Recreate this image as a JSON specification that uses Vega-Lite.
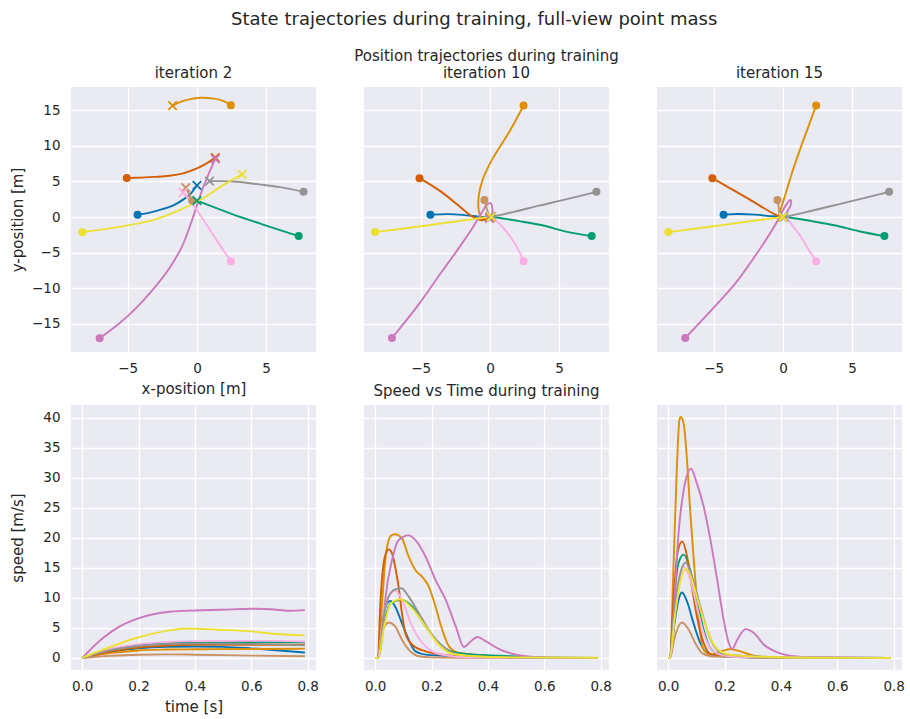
{
  "$schema": "https://vega.github.io/schema/vega-lite/v6.json",
  "padding": {"left": 10, "top": 11, "right": 5, "bottom": 5},
  "title": {"text": "State trajectories during training, full-view point mass", "fontSize": 18, "offset": 20, "anchor": "middle", "dx": 17},
  "datasets": {
    "traj": [
      {"iter":2,"agent":0,"step":0,"x":-4.29,"y":0.33},{"iter":2,"agent":0,"step":1,"x":-3.4,"y":0.62},{"iter":2,"agent":0,"step":2,"x":-2.5,"y":1.1},{"iter":2,"agent":0,"step":3,"x":-1.7,"y":1.65},{"iter":2,"agent":0,"step":4,"x":-1.0,"y":2.45},{"iter":2,"agent":0,"step":5,"x":-0.45,"y":3.3},{"iter":2,"agent":0,"step":6,"x":0,"y":4.46},
      {"iter":2,"agent":1,"step":0,"x":2.45,"y":15.73},{"iter":2,"agent":1,"step":1,"x":1.9,"y":16.35},{"iter":2,"agent":1,"step":2,"x":1.1,"y":16.7},{"iter":2,"agent":1,"step":3,"x":0.3,"y":16.78},{"iter":2,"agent":1,"step":4,"x":-0.5,"y":16.6},{"iter":2,"agent":1,"step":5,"x":-1.2,"y":16.2},{"iter":2,"agent":1,"step":6,"x":-1.76,"y":15.68},
      {"iter":2,"agent":2,"step":0,"x":7.35,"y":-2.69},{"iter":2,"agent":2,"step":1,"x":5.0,"y":-1.2},{"iter":2,"agent":2,"step":2,"x":2.5,"y":0.45},{"iter":2,"agent":2,"step":3,"x":0,"y":2.3},
      {"iter":2,"agent":3,"step":0,"x":-5.07,"y":5.48},{"iter":2,"agent":3,"step":1,"x":-4,"y":5.55},{"iter":2,"agent":3,"step":2,"x":-3,"y":5.65},{"iter":2,"agent":3,"step":3,"x":-2,"y":5.8},{"iter":2,"agent":3,"step":4,"x":-1,"y":6.15},{"iter":2,"agent":3,"step":5,"x":0,"y":6.85},{"iter":2,"agent":3,"step":6,"x":0.7,"y":7.55},{"iter":2,"agent":3,"step":7,"x":1.32,"y":8.36},
      {"iter":2,"agent":4,"step":0,"x":-7.03,"y":-17.05},{"iter":2,"agent":4,"step":1,"x":-5.71,"y":-15.12},{"iter":2,"agent":4,"step":2,"x":-4.49,"y":-12.99},{"iter":2,"agent":4,"step":3,"x":-3.26,"y":-10.39},{"iter":2,"agent":4,"step":4,"x":-2.03,"y":-7.32},{"iter":2,"agent":4,"step":5,"x":-1.05,"y":-4.02},{"iter":2,"agent":4,"step":6,"x":-0.32,"y":-0.24},{"iter":2,"agent":4,"step":7,"x":0.42,"y":4.02},{"iter":2,"agent":4,"step":8,"x":1.32,"y":8.17},
      {"iter":2,"agent":5,"step":0,"x":-0.35,"y":2.33},{"iter":2,"agent":5,"step":1,"x":-0.55,"y":3.1},{"iter":2,"agent":5,"step":2,"x":-0.81,"y":4.15},
      {"iter":2,"agent":6,"step":0,"x":2.45,"y":-6.24},{"iter":2,"agent":6,"step":1,"x":1.3,"y":-2.9},{"iter":2,"agent":6,"step":2,"x":0.2,"y":0.35},{"iter":2,"agent":6,"step":3,"x":-0.5,"y":2.3},{"iter":2,"agent":6,"step":4,"x":-1.0,"y":3.45},
      {"iter":2,"agent":7,"step":0,"x":7.7,"y":3.54},{"iter":2,"agent":7,"step":1,"x":6,"y":4.2},{"iter":2,"agent":7,"step":2,"x":4.5,"y":4.6},{"iter":2,"agent":7,"step":3,"x":2.87,"y":4.96},{"iter":2,"agent":7,"step":4,"x":1.8,"y":5.05},{"iter":2,"agent":7,"step":5,"x":0.91,"y":5.05},
      {"iter":2,"agent":8,"step":0,"x":-8.28,"y":-2.13},{"iter":2,"agent":8,"step":1,"x":-5.71,"y":-1.42},{"iter":2,"agent":8,"step":2,"x":-3.26,"y":-0.47},{"iter":2,"agent":8,"step":3,"x":-1.3,"y":0.94},{"iter":2,"agent":8,"step":4,"x":0.42,"y":2.6},{"iter":2,"agent":8,"step":5,"x":1.89,"y":4.49},{"iter":2,"agent":8,"step":6,"x":3.26,"y":6.0},

      {"iter":10,"agent":0,"step":0,"x":-4.3,"y":0.33},{"iter":10,"agent":0,"step":1,"x":-3,"y":0.4},{"iter":10,"agent":0,"step":2,"x":-2,"y":0.3},{"iter":10,"agent":0,"step":3,"x":-1,"y":0.1},{"iter":10,"agent":0,"step":4,"x":-0.3,"y":-0.05},{"iter":10,"agent":0,"step":5,"x":0,"y":0},
      {"iter":10,"agent":1,"step":0,"x":2.43,"y":15.7},{"iter":10,"agent":1,"step":1,"x":1.4,"y":12.0},{"iter":10,"agent":1,"step":2,"x":0.2,"y":8.25},{"iter":10,"agent":1,"step":3,"x":-0.5,"y":5.4},{"iter":10,"agent":1,"step":4,"x":-0.8,"y":3.1},{"iter":10,"agent":1,"step":5,"x":-0.8,"y":0.8},{"iter":10,"agent":1,"step":6,"x":-0.5,"y":-0.25},{"iter":10,"agent":1,"step":7,"x":0,"y":0},
      {"iter":10,"agent":2,"step":0,"x":7.35,"y":-2.69},{"iter":10,"agent":2,"step":1,"x":5.5,"y":-2.05},{"iter":10,"agent":2,"step":2,"x":3.86,"y":-1.2},{"iter":10,"agent":2,"step":3,"x":2,"y":-0.55},{"iter":10,"agent":2,"step":4,"x":0.6,"y":-0.1},{"iter":10,"agent":2,"step":5,"x":0.1,"y":0},
      {"iter":10,"agent":3,"step":0,"x":-5.09,"y":5.47},{"iter":10,"agent":3,"step":1,"x":-3.51,"y":3.54},{"iter":10,"agent":3,"step":2,"x":-2.29,"y":1.65},{"iter":10,"agent":3,"step":3,"x":-1.3,"y":0.1},{"iter":10,"agent":3,"step":4,"x":-0.6,"y":-0.45},{"iter":10,"agent":3,"step":5,"x":0,"y":-0.1},
      {"iter":10,"agent":4,"step":0,"x":-7.08,"y":-17.03},{"iter":10,"agent":4,"step":1,"x":-5.23,"y":-12.5},{"iter":10,"agent":4,"step":2,"x":-3.51,"y":-7.78},{"iter":10,"agent":4,"step":3,"x":-2.29,"y":-4.48},{"iter":10,"agent":4,"step":4,"x":-1.3,"y":-1.65},{"iter":10,"agent":4,"step":5,"x":-0.57,"y":0.71},{"iter":10,"agent":4,"step":6,"x":-0.2,"y":1.75},{"iter":10,"agent":4,"step":7,"x":0.05,"y":1.95},{"iter":10,"agent":4,"step":8,"x":0.17,"y":1.2},{"iter":10,"agent":4,"step":9,"x":0.12,"y":0.1},{"iter":10,"agent":4,"step":10,"x":-0.05,"y":-0.2},
      {"iter":10,"agent":5,"step":0,"x":-0.4,"y":2.4},{"iter":10,"agent":5,"step":1,"x":-0.25,"y":1.3},{"iter":10,"agent":5,"step":2,"x":-0.1,"y":0.4},{"iter":10,"agent":5,"step":3,"x":0,"y":0},
      {"iter":10,"agent":6,"step":0,"x":2.43,"y":-6.23},{"iter":10,"agent":6,"step":1,"x":2.05,"y":-4.6},{"iter":10,"agent":6,"step":2,"x":1.55,"y":-3.0},{"iter":10,"agent":6,"step":3,"x":1.0,"y":-1.6},{"iter":10,"agent":6,"step":4,"x":0.45,"y":-0.5},{"iter":10,"agent":6,"step":5,"x":0.1,"y":0.1},
      {"iter":10,"agent":7,"step":0,"x":7.69,"y":3.54},{"iter":10,"agent":7,"step":1,"x":5.1,"y":2.3},{"iter":10,"agent":7,"step":2,"x":3.54,"y":1.6},{"iter":10,"agent":7,"step":3,"x":2,"y":0.85},{"iter":10,"agent":7,"step":4,"x":0.8,"y":0.3},{"iter":10,"agent":7,"step":5,"x":0.1,"y":0.05},
      {"iter":10,"agent":8,"step":0,"x":-8.3,"y":-2.12},{"iter":10,"agent":8,"step":1,"x":-5,"y":-1.3},{"iter":10,"agent":8,"step":2,"x":-2,"y":-0.5},{"iter":10,"agent":8,"step":3,"x":0.1,"y":0.02},

      {"iter":15,"agent":0,"step":0,"x":-4.29,"y":0.33},{"iter":15,"agent":0,"step":1,"x":-3.3,"y":0.42},{"iter":15,"agent":0,"step":2,"x":-2,"y":0.33},{"iter":15,"agent":0,"step":3,"x":-0.8,"y":0.1},{"iter":15,"agent":0,"step":4,"x":0,"y":0},
      {"iter":15,"agent":1,"step":0,"x":2.4,"y":15.71},{"iter":15,"agent":1,"step":1,"x":1.55,"y":11.2},{"iter":15,"agent":1,"step":2,"x":0.75,"y":6.8},{"iter":15,"agent":1,"step":3,"x":0.15,"y":3.0},{"iter":15,"agent":1,"step":4,"x":-0.2,"y":0.8},{"iter":15,"agent":1,"step":5,"x":-0.35,"y":-0.5},{"iter":15,"agent":1,"step":6,"x":-0.15,"y":-0.25},{"iter":15,"agent":1,"step":7,"x":0,"y":0},
      {"iter":15,"agent":2,"step":0,"x":7.33,"y":-2.69},{"iter":15,"agent":2,"step":1,"x":5.5,"y":-2.0},{"iter":15,"agent":2,"step":2,"x":3.8,"y":-1.2},{"iter":15,"agent":2,"step":3,"x":2,"y":-0.55},{"iter":15,"agent":2,"step":4,"x":0.6,"y":-0.1},{"iter":15,"agent":2,"step":5,"x":0.05,"y":0},
      {"iter":15,"agent":3,"step":0,"x":-5.1,"y":5.47},{"iter":15,"agent":3,"step":1,"x":-2.7,"y":2.8},{"iter":15,"agent":3,"step":2,"x":-0.35,"y":0.15},{"iter":15,"agent":3,"step":3,"x":0,"y":0},
      {"iter":15,"agent":4,"step":0,"x":-7.06,"y":-17.03},{"iter":15,"agent":4,"step":1,"x":-5.1,"y":-12.97},{"iter":15,"agent":4,"step":2,"x":-3.38,"y":-9.2},{"iter":15,"agent":4,"step":3,"x":-2.16,"y":-5.9},{"iter":15,"agent":4,"step":4,"x":-1.18,"y":-3.07},{"iter":15,"agent":4,"step":5,"x":-0.44,"y":-0.71},{"iter":15,"agent":4,"step":6,"x":-0.07,"y":0.71},{"iter":15,"agent":4,"step":7,"x":0.29,"y":1.89},{"iter":15,"agent":4,"step":8,"x":0.54,"y":2.4},{"iter":15,"agent":4,"step":9,"x":0.59,"y":1.89},{"iter":15,"agent":4,"step":10,"x":0.29,"y":0.71},{"iter":15,"agent":4,"step":11,"x":-0.07,"y":-0.24},{"iter":15,"agent":4,"step":12,"x":0,"y":0},
      {"iter":15,"agent":5,"step":0,"x":-0.4,"y":2.4},{"iter":15,"agent":5,"step":1,"x":-0.3,"y":1.2},{"iter":15,"agent":5,"step":2,"x":-0.2,"y":0.1},{"iter":15,"agent":5,"step":3,"x":0,"y":0},
      {"iter":15,"agent":6,"step":0,"x":2.4,"y":-6.23},{"iter":15,"agent":6,"step":1,"x":1.83,"y":-4.5},{"iter":15,"agent":6,"step":2,"x":1.2,"y":-2.5},{"iter":15,"agent":6,"step":3,"x":0.6,"y":-1.0},{"iter":15,"agent":6,"step":4,"x":0.2,"y":0.2},{"iter":15,"agent":6,"step":5,"x":0,"y":0},
      {"iter":15,"agent":7,"step":0,"x":7.67,"y":3.54},{"iter":15,"agent":7,"step":1,"x":5.1,"y":2.3},{"iter":15,"agent":7,"step":2,"x":3.5,"y":1.55},{"iter":15,"agent":7,"step":3,"x":2,"y":0.85},{"iter":15,"agent":7,"step":4,"x":0.8,"y":0.3},{"iter":15,"agent":7,"step":5,"x":0.05,"y":0},
      {"iter":15,"agent":8,"step":0,"x":-8.28,"y":-2.12},{"iter":15,"agent":8,"step":1,"x":-5,"y":-1.3},{"iter":15,"agent":8,"step":2,"x":-2,"y":-0.5},{"iter":15,"agent":8,"step":3,"x":0.2,"y":0.05},{"iter":15,"agent":8,"step":4,"x":0,"y":0}
    ],
    "speed": [
      {"iter":2,"agent":0,"t":0,"speed":0},{"iter":2,"agent":0,"t":0.1,"speed":1.0},{"iter":2,"agent":0,"t":0.2,"speed":1.6},{"iter":2,"agent":0,"t":0.3,"speed":1.85},{"iter":2,"agent":0,"t":0.4,"speed":1.9},{"iter":2,"agent":0,"t":0.5,"speed":1.85},{"iter":2,"agent":0,"t":0.6,"speed":1.6},{"iter":2,"agent":0,"t":0.7,"speed":1.25},{"iter":2,"agent":0,"t":0.79,"speed":0.9},
      {"iter":2,"agent":1,"t":0,"speed":0},{"iter":2,"agent":1,"t":0.1,"speed":0.8},{"iter":2,"agent":1,"t":0.2,"speed":1.25},{"iter":2,"agent":1,"t":0.3,"speed":1.4},{"iter":2,"agent":1,"t":0.4,"speed":1.45},{"iter":2,"agent":1,"t":0.6,"speed":1.5},{"iter":2,"agent":1,"t":0.79,"speed":1.55},
      {"iter":2,"agent":2,"t":0,"speed":0},{"iter":2,"agent":2,"t":0.1,"speed":1.4},{"iter":2,"agent":2,"t":0.2,"speed":2.1},{"iter":2,"agent":2,"t":0.3,"speed":2.45},{"iter":2,"agent":2,"t":0.4,"speed":2.6},{"iter":2,"agent":2,"t":0.6,"speed":2.65},{"iter":2,"agent":2,"t":0.79,"speed":2.6},
      {"iter":2,"agent":3,"t":0,"speed":0},{"iter":2,"agent":3,"t":0.1,"speed":1.1},{"iter":2,"agent":3,"t":0.2,"speed":1.75},{"iter":2,"agent":3,"t":0.3,"speed":2.05},{"iter":2,"agent":3,"t":0.4,"speed":2.2},{"iter":2,"agent":3,"t":0.6,"speed":2.2},{"iter":2,"agent":3,"t":0.79,"speed":2.2},
      {"iter":2,"agent":4,"t":0,"speed":0},{"iter":2,"agent":4,"t":0.074,"speed":3.32},{"iter":2,"agent":4,"t":0.133,"speed":5.25},{"iter":2,"agent":4,"t":0.202,"speed":6.64},{"iter":2,"agent":4,"t":0.311,"speed":7.69},{"iter":2,"agent":4,"t":0.402,"speed":7.91},{"iter":2,"agent":4,"t":0.489,"speed":8.02},{"iter":2,"agent":4,"t":0.602,"speed":8.19},{"iter":2,"agent":4,"t":0.691,"speed":8.02},{"iter":2,"agent":4,"t":0.738,"speed":7.85},{"iter":2,"agent":4,"t":0.79,"speed":7.96},
      {"iter":2,"agent":5,"t":0,"speed":0},{"iter":2,"agent":5,"t":0.1,"speed":0.35},{"iter":2,"agent":5,"t":0.2,"speed":0.55},{"iter":2,"agent":5,"t":0.3,"speed":0.6},{"iter":2,"agent":5,"t":0.4,"speed":0.55},{"iter":2,"agent":5,"t":0.6,"speed":0.4},{"iter":2,"agent":5,"t":0.79,"speed":0.3},
      {"iter":2,"agent":6,"t":0,"speed":0},{"iter":2,"agent":6,"t":0.05,"speed":0.8},{"iter":2,"agent":6,"t":0.1,"speed":1.5},{"iter":2,"agent":6,"t":0.2,"speed":2.3},{"iter":2,"agent":6,"t":0.3,"speed":2.65},{"iter":2,"agent":6,"t":0.4,"speed":2.8},{"iter":2,"agent":6,"t":0.6,"speed":2.85},{"iter":2,"agent":6,"t":0.7,"speed":2.85},{"iter":2,"agent":6,"t":0.79,"speed":2.75},
      {"iter":2,"agent":7,"t":0,"speed":0},{"iter":2,"agent":7,"t":0.1,"speed":1.3},{"iter":2,"agent":7,"t":0.2,"speed":2.0},{"iter":2,"agent":7,"t":0.3,"speed":2.3},{"iter":2,"agent":7,"t":0.4,"speed":2.4},{"iter":2,"agent":7,"t":0.6,"speed":2.35},{"iter":2,"agent":7,"t":0.79,"speed":2.1},
      {"iter":2,"agent":8,"t":0,"speed":0},{"iter":2,"agent":8,"t":0.074,"speed":1.38},{"iter":2,"agent":8,"t":0.192,"speed":3.32},{"iter":2,"agent":8,"t":0.311,"speed":4.59},{"iter":2,"agent":8,"t":0.358,"speed":4.87},{"iter":2,"agent":8,"t":0.402,"speed":4.87},{"iter":2,"agent":8,"t":0.489,"speed":4.7},{"iter":2,"agent":8,"t":0.602,"speed":4.42},{"iter":2,"agent":8,"t":0.691,"speed":3.98},{"iter":2,"agent":8,"t":0.79,"speed":3.76},

      {"iter":10,"agent":0,"t":0,"speed":0},{"iter":10,"agent":0,"t":0.01,"speed":0},{"iter":10,"agent":0,"t":0.024,"speed":5.25},{"iter":10,"agent":0,"t":0.042,"speed":9.1},{"iter":10,"agent":0,"t":0.054,"speed":9.5},{"iter":10,"agent":0,"t":0.071,"speed":8.56},{"iter":10,"agent":0,"t":0.095,"speed":5.8},{"iter":10,"agent":0,"t":0.119,"speed":3.04},{"iter":10,"agent":0,"t":0.143,"speed":1.1},{"iter":10,"agent":0,"t":0.179,"speed":0.55},{"iter":10,"agent":0,"t":0.238,"speed":0.39},{"iter":10,"agent":0,"t":0.3,"speed":0.2},{"iter":10,"agent":0,"t":0.4,"speed":0.08},{"iter":10,"agent":0,"t":0.79,"speed":0},
      {"iter":10,"agent":1,"t":0,"speed":0},{"iter":10,"agent":1,"t":0.01,"speed":0},{"iter":10,"agent":1,"t":0.024,"speed":8.6},{"iter":10,"agent":1,"t":0.036,"speed":16.3},{"iter":10,"agent":1,"t":0.048,"speed":19.6},{"iter":10,"agent":1,"t":0.06,"speed":20.5},{"iter":10,"agent":1,"t":0.071,"speed":20.6},{"iter":10,"agent":1,"t":0.095,"speed":19.9},{"iter":10,"agent":1,"t":0.119,"speed":16.85},{"iter":10,"agent":1,"t":0.143,"speed":14.6},{"iter":10,"agent":1,"t":0.167,"speed":13.5},{"iter":10,"agent":1,"t":0.19,"speed":11.9},{"iter":10,"agent":1,"t":0.214,"speed":8.56},{"iter":10,"agent":1,"t":0.238,"speed":4.7},{"iter":10,"agent":1,"t":0.262,"speed":1.93},{"iter":10,"agent":1,"t":0.298,"speed":0.83},{"iter":10,"agent":1,"t":0.4,"speed":0.4},{"iter":10,"agent":1,"t":0.5,"speed":0.15},{"iter":10,"agent":1,"t":0.79,"speed":0},
      {"iter":10,"agent":2,"t":0,"speed":0},{"iter":10,"agent":2,"t":0.01,"speed":0},{"iter":10,"agent":2,"t":0.03,"speed":5.25},{"iter":10,"agent":2,"t":0.054,"speed":9.1},{"iter":10,"agent":2,"t":0.095,"speed":9.67},{"iter":10,"agent":2,"t":0.131,"speed":8.56},{"iter":10,"agent":2,"t":0.179,"speed":5.25},{"iter":10,"agent":2,"t":0.226,"speed":2.5},{"iter":10,"agent":2,"t":0.274,"speed":1.0},{"iter":10,"agent":2,"t":0.357,"speed":0.55},{"iter":10,"agent":2,"t":0.44,"speed":0.39},{"iter":10,"agent":2,"t":0.536,"speed":0.17},{"iter":10,"agent":2,"t":0.65,"speed":0.05},{"iter":10,"agent":2,"t":0.79,"speed":0},
      {"iter":10,"agent":3,"t":0,"speed":0},{"iter":10,"agent":3,"t":0.01,"speed":0},{"iter":10,"agent":3,"t":0.018,"speed":8.56},{"iter":10,"agent":3,"t":0.03,"speed":15.7},{"iter":10,"agent":3,"t":0.042,"speed":17.8},{"iter":10,"agent":3,"t":0.048,"speed":18.07},{"iter":10,"agent":3,"t":0.06,"speed":17.4},{"iter":10,"agent":3,"t":0.071,"speed":15.2},{"iter":10,"agent":3,"t":0.083,"speed":11.9},{"iter":10,"agent":3,"t":0.095,"speed":7.46},{"iter":10,"agent":3,"t":0.107,"speed":4.14},{"iter":10,"agent":3,"t":0.131,"speed":2.2},{"iter":10,"agent":3,"t":0.179,"speed":1.1},{"iter":10,"agent":3,"t":0.238,"speed":0.55},{"iter":10,"agent":3,"t":0.298,"speed":0.28},{"iter":10,"agent":3,"t":0.4,"speed":0.05},{"iter":10,"agent":3,"t":0.79,"speed":0},
      {"iter":10,"agent":4,"t":0,"speed":0},{"iter":10,"agent":4,"t":0.01,"speed":0},{"iter":10,"agent":4,"t":0.024,"speed":3.0},{"iter":10,"agent":4,"t":0.036,"speed":9.7},{"iter":10,"agent":4,"t":0.06,"speed":16.3},{"iter":10,"agent":4,"t":0.083,"speed":19.6},{"iter":10,"agent":4,"t":0.119,"speed":20.4},{"iter":10,"agent":4,"t":0.143,"speed":19.6},{"iter":10,"agent":4,"t":0.179,"speed":16.85},{"iter":10,"agent":4,"t":0.214,"speed":13},{"iter":10,"agent":4,"t":0.25,"speed":9.7},{"iter":10,"agent":4,"t":0.286,"speed":5.25},{"iter":10,"agent":4,"t":0.315,"speed":1.82},{"iter":10,"agent":4,"t":0.339,"speed":2.76},{"iter":10,"agent":4,"t":0.363,"speed":3.48},{"iter":10,"agent":4,"t":0.393,"speed":2.76},{"iter":10,"agent":4,"t":0.44,"speed":1.49},{"iter":10,"agent":4,"t":0.5,"speed":0.55},{"iter":10,"agent":4,"t":0.56,"speed":0.17},{"iter":10,"agent":4,"t":0.65,"speed":0.03},{"iter":10,"agent":4,"t":0.79,"speed":0},
      {"iter":10,"agent":5,"t":0,"speed":0},{"iter":10,"agent":5,"t":0.01,"speed":0},{"iter":10,"agent":5,"t":0.024,"speed":4.1},{"iter":10,"agent":5,"t":0.048,"speed":5.9},{"iter":10,"agent":5,"t":0.071,"speed":5.25},{"iter":10,"agent":5,"t":0.095,"speed":3.04},{"iter":10,"agent":5,"t":0.119,"speed":1.38},{"iter":10,"agent":5,"t":0.155,"speed":0.28},{"iter":10,"agent":5,"t":0.2,"speed":0.1},{"iter":10,"agent":5,"t":0.3,"speed":0.05},{"iter":10,"agent":5,"t":0.79,"speed":0},
      {"iter":10,"agent":6,"t":0,"speed":0},{"iter":10,"agent":6,"t":0.01,"speed":0},{"iter":10,"agent":6,"t":0.024,"speed":5.25},{"iter":10,"agent":6,"t":0.048,"speed":10.2},{"iter":10,"agent":6,"t":0.071,"speed":11.2},{"iter":10,"agent":6,"t":0.095,"speed":9.7},{"iter":10,"agent":6,"t":0.131,"speed":5.25},{"iter":10,"agent":6,"t":0.167,"speed":2.5},{"iter":10,"agent":6,"t":0.202,"speed":1.1},{"iter":10,"agent":6,"t":0.25,"speed":0.45},{"iter":10,"agent":6,"t":0.3,"speed":0.17},{"iter":10,"agent":6,"t":0.4,"speed":0.05},{"iter":10,"agent":6,"t":0.79,"speed":0},
      {"iter":10,"agent":7,"t":0,"speed":0},{"iter":10,"agent":7,"t":0.01,"speed":0},{"iter":10,"agent":7,"t":0.03,"speed":6.9},{"iter":10,"agent":7,"t":0.048,"speed":10.2},{"iter":10,"agent":7,"t":0.071,"speed":11.4},{"iter":10,"agent":7,"t":0.093,"speed":11.6},{"iter":10,"agent":7,"t":0.119,"speed":10.2},{"iter":10,"agent":7,"t":0.155,"speed":7.46},{"iter":10,"agent":7,"t":0.19,"speed":4.7},{"iter":10,"agent":7,"t":0.226,"speed":2.5},{"iter":10,"agent":7,"t":0.262,"speed":1.1},{"iter":10,"agent":7,"t":0.298,"speed":0.55},{"iter":10,"agent":7,"t":0.357,"speed":0.28},{"iter":10,"agent":7,"t":0.45,"speed":0.1},{"iter":10,"agent":7,"t":0.79,"speed":0},
      {"iter":10,"agent":8,"t":0,"speed":0},{"iter":10,"agent":8,"t":0.01,"speed":0},{"iter":10,"agent":8,"t":0.03,"speed":4.7},{"iter":10,"agent":8,"t":0.054,"speed":9.0},{"iter":10,"agent":8,"t":0.089,"speed":9.78},{"iter":10,"agent":8,"t":0.131,"speed":8.3},{"iter":10,"agent":8,"t":0.179,"speed":5.25},{"iter":10,"agent":8,"t":0.226,"speed":2.2},{"iter":10,"agent":8,"t":0.274,"speed":0.7},{"iter":10,"agent":8,"t":0.357,"speed":0.28},{"iter":10,"agent":8,"t":0.476,"speed":0.1},{"iter":10,"agent":8,"t":0.79,"speed":0.05},

      {"iter":15,"agent":0,"t":0,"speed":0},{"iter":15,"agent":0,"t":0.007,"speed":0},{"iter":15,"agent":0,"t":0.021,"speed":5.25},{"iter":15,"agent":0,"t":0.037,"speed":9.7},{"iter":15,"agent":0,"t":0.049,"speed":10.9},{"iter":15,"agent":0,"t":0.067,"speed":9.4},{"iter":15,"agent":0,"t":0.09,"speed":5.8},{"iter":15,"agent":0,"t":0.114,"speed":2.5},{"iter":15,"agent":0,"t":0.138,"speed":0.83},{"iter":15,"agent":0,"t":0.186,"speed":0.28},{"iter":15,"agent":0,"t":0.3,"speed":0.08},{"iter":15,"agent":0,"t":0.79,"speed":0},
      {"iter":15,"agent":1,"t":0,"speed":0},{"iter":15,"agent":1,"t":0.007,"speed":0},{"iter":15,"agent":1,"t":0.019,"speed":15.2},{"iter":15,"agent":1,"t":0.031,"speed":31.8},{"iter":15,"agent":1,"t":0.04,"speed":39.6},{"iter":15,"agent":1,"t":0.045,"speed":40.1},{"iter":15,"agent":1,"t":0.055,"speed":39.0},{"iter":15,"agent":1,"t":0.067,"speed":32.9},{"iter":15,"agent":1,"t":0.078,"speed":24.6},{"iter":15,"agent":1,"t":0.09,"speed":16.9},{"iter":15,"agent":1,"t":0.102,"speed":9.7},{"iter":15,"agent":1,"t":0.114,"speed":4.15},{"iter":15,"agent":1,"t":0.126,"speed":1.38},{"iter":15,"agent":1,"t":0.15,"speed":0.55},{"iter":15,"agent":1,"t":0.186,"speed":1.1},{"iter":15,"agent":1,"t":0.221,"speed":1.49},{"iter":15,"agent":1,"t":0.257,"speed":1.1},{"iter":15,"agent":1,"t":0.304,"speed":0.39},{"iter":15,"agent":1,"t":0.4,"speed":0.05},{"iter":15,"agent":1,"t":0.79,"speed":0},
      {"iter":15,"agent":2,"t":0,"speed":0},{"iter":15,"agent":2,"t":0.007,"speed":0},{"iter":15,"agent":2,"t":0.019,"speed":8.6},{"iter":15,"agent":2,"t":0.037,"speed":15.8},{"iter":15,"agent":2,"t":0.055,"speed":17.2},{"iter":15,"agent":2,"t":0.078,"speed":14.7},{"iter":15,"agent":2,"t":0.102,"speed":9.7},{"iter":15,"agent":2,"t":0.126,"speed":4.7},{"iter":15,"agent":2,"t":0.15,"speed":1.66},{"iter":15,"agent":2,"t":0.186,"speed":0.55},{"iter":15,"agent":2,"t":0.245,"speed":0.28},{"iter":15,"agent":2,"t":0.35,"speed":0.08},{"iter":15,"agent":2,"t":0.79,"speed":0},
      {"iter":15,"agent":3,"t":0,"speed":0},{"iter":15,"agent":3,"t":0.007,"speed":0},{"iter":15,"agent":3,"t":0.019,"speed":9.7},{"iter":15,"agent":3,"t":0.033,"speed":17.4},{"iter":15,"agent":3,"t":0.05,"speed":19.4},{"iter":15,"agent":3,"t":0.067,"speed":16.9},{"iter":15,"agent":3,"t":0.084,"speed":11.9},{"iter":15,"agent":3,"t":0.102,"speed":6.9},{"iter":15,"agent":3,"t":0.126,"speed":2.5},{"iter":15,"agent":3,"t":0.156,"speed":0.55},{"iter":15,"agent":3,"t":0.209,"speed":0.39},{"iter":15,"agent":3,"t":0.3,"speed":0.1},{"iter":15,"agent":3,"t":0.79,"speed":0},
      {"iter":15,"agent":4,"t":0,"speed":0},{"iter":15,"agent":4,"t":0.007,"speed":0},{"iter":15,"agent":4,"t":0.019,"speed":6.9},{"iter":15,"agent":4,"t":0.037,"speed":20.75},{"iter":15,"agent":4,"t":0.055,"speed":27.9},{"iter":15,"agent":4,"t":0.081,"speed":31.5},{"iter":15,"agent":4,"t":0.102,"speed":29.05},{"iter":15,"agent":4,"t":0.126,"speed":25.2},{"iter":15,"agent":4,"t":0.15,"speed":19.65},{"iter":15,"agent":4,"t":0.174,"speed":13.0},{"iter":15,"agent":4,"t":0.197,"speed":6.36},{"iter":15,"agent":4,"t":0.215,"speed":2.49},{"iter":15,"agent":4,"t":0.227,"speed":1.49},{"iter":15,"agent":4,"t":0.245,"speed":3.04},{"iter":15,"agent":4,"t":0.275,"speed":4.8},{"iter":15,"agent":4,"t":0.304,"speed":4.15},{"iter":15,"agent":4,"t":0.34,"speed":2.2},{"iter":15,"agent":4,"t":0.388,"speed":0.94},{"iter":15,"agent":4,"t":0.447,"speed":0.28},{"iter":15,"agent":4,"t":0.52,"speed":0.05},{"iter":15,"agent":4,"t":0.79,"speed":0},
      {"iter":15,"agent":5,"t":0,"speed":0},{"iter":15,"agent":5,"t":0.007,"speed":0},{"iter":15,"agent":5,"t":0.021,"speed":3.0},{"iter":15,"agent":5,"t":0.049,"speed":5.9},{"iter":15,"agent":5,"t":0.073,"speed":4.7},{"iter":15,"agent":5,"t":0.096,"speed":2.5},{"iter":15,"agent":5,"t":0.12,"speed":0.83},{"iter":15,"agent":5,"t":0.15,"speed":0.28},{"iter":15,"agent":5,"t":0.245,"speed":0.17},{"iter":15,"agent":5,"t":0.4,"speed":0.05},{"iter":15,"agent":5,"t":0.79,"speed":0},
      {"iter":15,"agent":6,"t":0,"speed":0},{"iter":15,"agent":6,"t":0.007,"speed":0},{"iter":15,"agent":6,"t":0.021,"speed":6.4},{"iter":15,"agent":6,"t":0.04,"speed":13.0},{"iter":15,"agent":6,"t":0.055,"speed":15.2},{"iter":15,"agent":6,"t":0.078,"speed":13.0},{"iter":15,"agent":6,"t":0.102,"speed":8.6},{"iter":15,"agent":6,"t":0.126,"speed":4.15},{"iter":15,"agent":6,"t":0.15,"speed":1.66},{"iter":15,"agent":6,"t":0.186,"speed":0.55},{"iter":15,"agent":6,"t":0.25,"speed":0.15},{"iter":15,"agent":6,"t":0.79,"speed":0},
      {"iter":15,"agent":7,"t":0,"speed":0},{"iter":15,"agent":7,"t":0.007,"speed":0},{"iter":15,"agent":7,"t":0.021,"speed":7.5},{"iter":15,"agent":7,"t":0.043,"speed":14.1},{"iter":15,"agent":7,"t":0.062,"speed":15.9},{"iter":15,"agent":7,"t":0.084,"speed":13.6},{"iter":15,"agent":7,"t":0.114,"speed":8.6},{"iter":15,"agent":7,"t":0.138,"speed":4.7},{"iter":15,"agent":7,"t":0.168,"speed":1.66},{"iter":15,"agent":7,"t":0.209,"speed":0.55},{"iter":15,"agent":7,"t":0.304,"speed":0.28},{"iter":15,"agent":7,"t":0.4,"speed":0.08},{"iter":15,"agent":7,"t":0.79,"speed":0},
      {"iter":15,"agent":8,"t":0,"speed":0},{"iter":15,"agent":8,"t":0.007,"speed":0},{"iter":15,"agent":8,"t":0.021,"speed":5.8},{"iter":15,"agent":8,"t":0.043,"speed":12.7},{"iter":15,"agent":8,"t":0.064,"speed":14.9},{"iter":15,"agent":8,"t":0.084,"speed":13.0},{"iter":15,"agent":8,"t":0.108,"speed":9.1},{"iter":15,"agent":8,"t":0.138,"speed":4.7},{"iter":15,"agent":8,"t":0.162,"speed":2.2},{"iter":15,"agent":8,"t":0.197,"speed":0.83},{"iter":15,"agent":8,"t":0.245,"speed":0.39},{"iter":15,"agent":8,"t":0.364,"speed":0.17},{"iter":15,"agent":8,"t":0.5,"speed":0.05},{"iter":15,"agent":8,"t":0.79,"speed":0}
    ]
  },
  "columns": 3,
  "spacing": {"row": 53, "column": 48},
  "bounds": "flush",
  "concat": [
    {
      "width": 245, "height": 265,
      "title": "iteration 2",
      "data": {"name": "traj"},
      "transform": [{"filter": "datum.iter == 2"}],
      "encoding": {
        "x": {"field": "x", "type": "quantitative", "scale": {"domain": [-9.1, 8.6], "nice": false, "zero": false}, "axis": {"values": [-5, 0, 5], "title": "x-position [m]"}},
        "y": {"field": "y", "type": "quantitative", "scale": {"domain": [-19, 18.3], "nice": false, "zero": false}, "axis": {"values": [-15, -10, -5, 0, 5, 10, 15], "title": "y-position [m]", "titleX": -54}},
        "color": {"field": "agent", "type": "nominal", "scale": {"domain": [0, 1, 2, 3, 4, 5, 6, 7, 8], "range": ["#0173b2", "#de8f05", "#029e73", "#d55e00", "#cc78bc", "#ca9161", "#fbafe4", "#949494", "#ece133"]}, "legend": null}
      },
      "layer": [
        {"mark": {"type": "line", "interpolate": "catmull-rom", "strokeWidth": 1.9}, "encoding": {"order": {"field": "step"}}},
        {"transform": [{"filter": "datum.step == 0"}], "mark": {"type": "point", "shape": "circle", "filled": true, "size": 64, "opacity": 1}},
        {"transform": [{"joinaggregate": [{"op": "max", "field": "step", "as": "last"}], "groupby": ["agent"]}, {"filter": "datum.step == datum.last"}], "mark": {"type": "point", "shape": "M-1,-1L1,1M-1,1L1,-1", "filled": false, "strokeWidth": 1.8, "size": 72, "opacity": 1}}
      ]
    },
    {
      "width": 245, "height": 265,
      "title": {"text": ["Position trajectories during training", "iteration 10"], "lineHeight": 17},
      "data": {"name": "traj"},
      "transform": [{"filter": "datum.iter == 10"}],
      "encoding": {
        "x": {"field": "x", "type": "quantitative", "scale": {"domain": [-9.1, 8.6], "nice": false, "zero": false}, "axis": {"values": [-5, 0, 5], "title": null}},
        "y": {"field": "y", "type": "quantitative", "scale": {"domain": [-19, 18.3], "nice": false, "zero": false}, "axis": {"values": [-15, -10, -5, 0, 5, 10, 15], "title": null, "labels": false}},
        "color": {"field": "agent", "type": "nominal", "scale": {"domain": [0, 1, 2, 3, 4, 5, 6, 7, 8], "range": ["#0173b2", "#de8f05", "#029e73", "#d55e00", "#cc78bc", "#ca9161", "#fbafe4", "#949494", "#ece133"]}, "legend": null}
      },
      "layer": [
        {"mark": {"type": "line", "interpolate": "catmull-rom", "strokeWidth": 1.9}, "encoding": {"order": {"field": "step"}}},
        {"transform": [{"filter": "datum.step == 0"}], "mark": {"type": "point", "shape": "circle", "filled": true, "size": 64, "opacity": 1}},
        {"transform": [{"joinaggregate": [{"op": "max", "field": "step", "as": "last"}], "groupby": ["agent"]}, {"filter": "datum.step == datum.last"}], "mark": {"type": "point", "shape": "M-1,-1L1,1M-1,1L1,-1", "filled": false, "strokeWidth": 1.8, "size": 72, "opacity": 1}}
      ]
    },
    {
      "width": 245, "height": 265,
      "title": "iteration 15",
      "data": {"name": "traj"},
      "transform": [{"filter": "datum.iter == 15"}],
      "encoding": {
        "x": {"field": "x", "type": "quantitative", "scale": {"domain": [-9.1, 8.6], "nice": false, "zero": false}, "axis": {"values": [-5, 0, 5], "title": null}},
        "y": {"field": "y", "type": "quantitative", "scale": {"domain": [-19, 18.3], "nice": false, "zero": false}, "axis": {"values": [-15, -10, -5, 0, 5, 10, 15], "title": null, "labels": false}},
        "color": {"field": "agent", "type": "nominal", "scale": {"domain": [0, 1, 2, 3, 4, 5, 6, 7, 8], "range": ["#0173b2", "#de8f05", "#029e73", "#d55e00", "#cc78bc", "#ca9161", "#fbafe4", "#949494", "#ece133"]}, "legend": null}
      },
      "layer": [
        {"mark": {"type": "line", "interpolate": "catmull-rom", "strokeWidth": 1.9}, "encoding": {"order": {"field": "step"}}},
        {"transform": [{"filter": "datum.step == 0"}], "mark": {"type": "point", "shape": "circle", "filled": true, "size": 64, "opacity": 1}},
        {"transform": [{"joinaggregate": [{"op": "max", "field": "step", "as": "last"}], "groupby": ["agent"]}, {"filter": "datum.step == datum.last"}], "mark": {"type": "point", "shape": "M-1,-1L1,1M-1,1L1,-1", "filled": false, "strokeWidth": 1.8, "size": 72, "opacity": 1}}
      ]
    },
    {
      "width": 245, "height": 265,
      "data": {"name": "speed"},
      "transform": [{"filter": "datum.iter == 2"}],
      "mark": {"type": "line", "interpolate": "monotone", "strokeWidth": 1.9},
      "encoding": {
        "x": {"field": "t", "type": "quantitative", "scale": {"domain": [-0.0395, 0.8295], "nice": false, "zero": false}, "axis": {"values": [0, 0.2, 0.4, 0.6, 0.8], "format": ".1f", "title": "time [s]"}},
        "y": {"field": "speed", "type": "quantitative", "scale": {"domain": [-2.0, 42.1], "nice": false, "zero": false}, "axis": {"values": [0, 5, 10, 15, 20, 25, 30, 35, 40], "title": "speed [m/s]", "titleX": -54}},
        "color": {"field": "agent", "type": "nominal", "scale": {"domain": [0, 1, 2, 3, 4, 5, 6, 7, 8], "range": ["#0173b2", "#de8f05", "#029e73", "#d55e00", "#cc78bc", "#ca9161", "#fbafe4", "#949494", "#ece133"]}, "legend": null}
      }
    },
    {
      "width": 245, "height": 265,
      "title": "Speed vs Time during training",
      "data": {"name": "speed"},
      "transform": [{"filter": "datum.iter == 10"}],
      "mark": {"type": "line", "interpolate": "monotone", "strokeWidth": 1.9},
      "encoding": {
        "x": {"field": "t", "type": "quantitative", "scale": {"domain": [-0.0395, 0.8295], "nice": false, "zero": false}, "axis": {"values": [0, 0.2, 0.4, 0.6, 0.8], "format": ".1f", "title": null}},
        "y": {"field": "speed", "type": "quantitative", "scale": {"domain": [-2.0, 42.1], "nice": false, "zero": false}, "axis": {"values": [0, 5, 10, 15, 20, 25, 30, 35, 40], "title": null, "labels": false}},
        "color": {"field": "agent", "type": "nominal", "scale": {"domain": [0, 1, 2, 3, 4, 5, 6, 7, 8], "range": ["#0173b2", "#de8f05", "#029e73", "#d55e00", "#cc78bc", "#ca9161", "#fbafe4", "#949494", "#ece133"]}, "legend": null}
      }
    },
    {
      "width": 245, "height": 265,
      "data": {"name": "speed"},
      "transform": [{"filter": "datum.iter == 15"}],
      "mark": {"type": "line", "interpolate": "monotone", "strokeWidth": 1.9},
      "encoding": {
        "x": {"field": "t", "type": "quantitative", "scale": {"domain": [-0.0395, 0.8295], "nice": false, "zero": false}, "axis": {"values": [0, 0.2, 0.4, 0.6, 0.8], "format": ".1f", "title": null}},
        "y": {"field": "speed", "type": "quantitative", "scale": {"domain": [-2.0, 42.1], "nice": false, "zero": false}, "axis": {"values": [0, 5, 10, 15, 20, 25, 30, 35, 40], "title": null, "labels": false}},
        "color": {"field": "agent", "type": "nominal", "scale": {"domain": [0, 1, 2, 3, 4, 5, 6, 7, 8], "range": ["#0173b2", "#de8f05", "#029e73", "#d55e00", "#cc78bc", "#ca9161", "#fbafe4", "#949494", "#ece133"]}, "legend": null}
      }
    }
  ],
  "config": {
    "font": "DejaVu Sans",
    "background": "#ffffff",
    "view": {"fill": "#eaeaf2", "stroke": null},
    "axis": {
      "domain": false, "ticks": false,
      "gridColor": "#ffffff", "gridWidth": 1.3, "gridOpacity": 1,
      "labelFont": "DejaVu Sans", "labelFontSize": 13.5, "labelColor": "#262626",
      "labelOverlap": false, "labelFlush": false,
      "titleFont": "DejaVu Sans", "titleFontSize": 15, "titleFontWeight": "normal", "titleColor": "#262626"
    },
    "axisX": {"labelPadding": 9, "titlePadding": 7},
    "axisY": {"labelPadding": 11, "titleBaseline": "middle"},
    "title": {"font": "DejaVu Sans", "fontSize": 15, "fontWeight": "normal", "color": "#262626", "offset": 6}
  }
}
